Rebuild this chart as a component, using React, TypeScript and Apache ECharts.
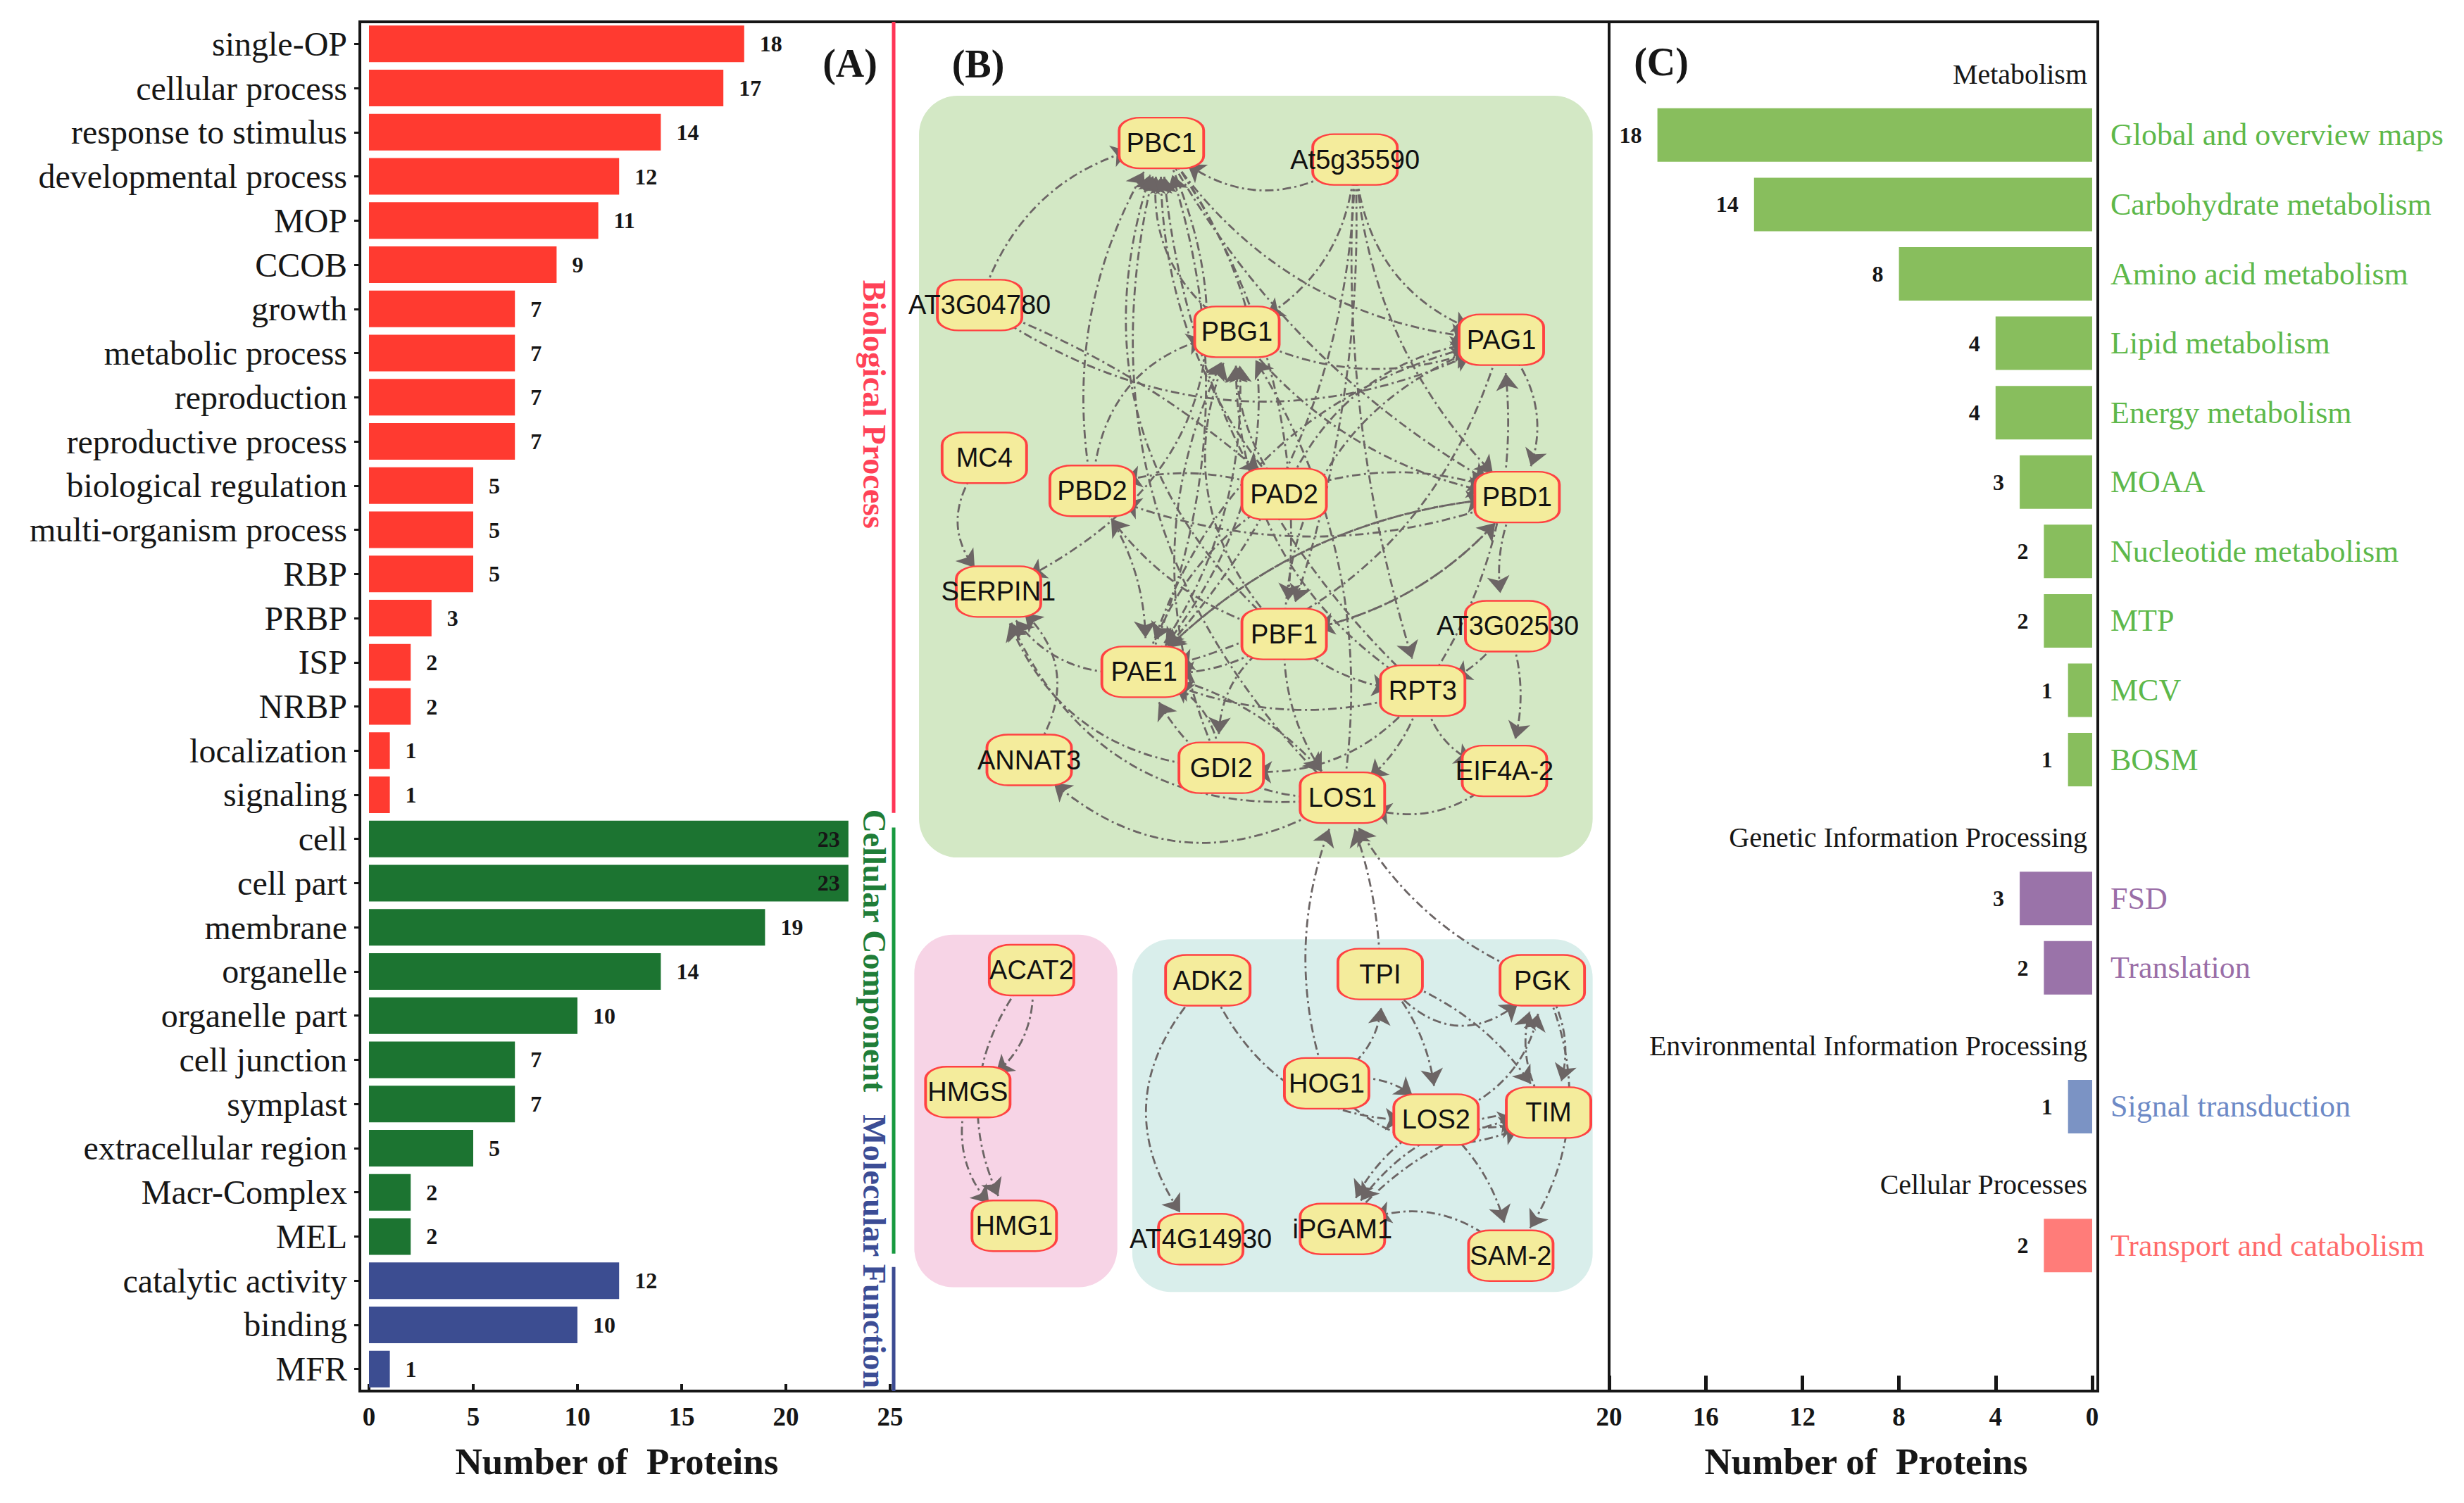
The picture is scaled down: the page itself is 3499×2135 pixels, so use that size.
import React, { useEffect, useRef } from 'react';
import * as echarts from 'echarts';

// ---------- Panel A data ----------
const bpCategories = ['single-OP', 'cellular process', 'response to stimulus', 'developmental process', 'MOP', 'CCOB', 'growth', 'metabolic process', 'reproduction', 'reproductive process', 'biological regulation', 'multi-organism process', 'RBP', 'PRBP', 'ISP', 'NRBP', 'localization', 'signaling'];
const bpValues = [18, 17, 14, 12, 11, 9, 7, 7, 7, 7, 5, 5, 5, 3, 2, 2, 1, 1];
const ccCategories = ['cell', 'cell part', 'membrane', 'organelle', 'organelle part', 'cell junction', 'symplast', 'extracellular region', 'Macr-Complex', 'MEL'];
const ccValues = [23, 23, 19, 14, 10, 7, 7, 5, 2, 2];
const mfCategories = ['catalytic activity', 'binding', 'MFR'];
const mfValues = [12, 10, 1];
const aTicks = [0, 5, 10, 15, 20, 25];

// ---------- Panel C data ----------
const metabolismCategories = ['Global and overview maps', 'Carbohydrate metabolism', 'Amino acid metabolism', 'Lipid metabolism', 'Energy metabolism', 'MOAA', 'Nucleotide metabolism', 'MTP', 'MCV', 'BOSM'];
const metabolismValues = [18, 14, 8, 4, 4, 3, 2, 2, 1, 1];
const geneticCategories = ['FSD', 'Translation'];
const geneticValues = [3, 2];
const environmentalCategories = ['Signal transduction'];
const environmentalValues = [1];
const cellularCategories = ['Transport and catabolism'];
const cellularValues = [2];
const cTicks = [0, 4, 8, 12, 16, 20];

// ---------- Panel B network ----------
const nodeNames = ['PBC1', 'At5g35590', 'AT3G04780', 'PBG1', 'PAG1', 'MC4', 'PBD2', 'PAD2', 'PBD1', 'SERPIN1', 'AT3G02530', 'PBF1', 'PAE1', 'RPT3', 'ANNAT3', 'GDI2', 'EIF4A-2', 'LOS1', 'ACAT2', 'HMGS', 'HMG1', 'ADK2', 'TPI', 'PGK', 'HOG1', 'LOS2', 'TIM', 'AT4G14930', 'iPGAM1', 'SAM-2'];
const links: [string, string][] = [
  ['AT3G04780', 'PBC1'], ['AT3G04780', 'PAG1'], ['AT3G04780', 'PAD2'],
  ['At5g35590', 'PBC1'], ['At5g35590', 'PAG1'], ['At5g35590', 'PBG1'], ['At5g35590', 'PBD1'], ['At5g35590', 'PBF1'], ['At5g35590', 'PAE1'], ['At5g35590', 'RPT3'],
  ['PBG1', 'PBC1'], ['PBC1', 'PAG1'], ['PBC1', 'PBD1'], ['PBC1', 'PAE1'], ['PBC1', 'PBF1'], ['PBC1', 'SERPIN1'],
  ['PBD2', 'PBC1'], ['PAE1', 'PBC1'], ['PBF1', 'PBC1'], ['PAD2', 'PBC1'], ['LOS1', 'PBC1'], ['RPT3', 'PBC1'],
  ['PBG1', 'PAG1'], ['PAD2', 'PBG1'], ['PBF1', 'PBG1'], ['PAE1', 'PBG1'], ['PBD2', 'PBG1'], ['RPT3', 'PBG1'], ['LOS1', 'PBG1'], ['GDI2', 'PBG1'],
  ['PBG1', 'PBD1'], ['PAG1', 'PBD1'], ['PAD2', 'PAG1'], ['PBF1', 'PAG1'], ['PAE1', 'PAG1'], ['RPT3', 'PAG1'],
  ['PAD2', 'PBD1'], ['PBF1', 'PBD1'], ['PAE1', 'PBD1'], ['PBD1', 'PBD2'], ['PAD2', 'PBD2'],
  ['MC4', 'SERPIN1'], ['PAE1', 'SERPIN1'], ['ANNAT3', 'SERPIN1'], ['GDI2', 'SERPIN1'], ['LOS1', 'SERPIN1'],
  ['RPT3', 'PAE1'], ['PBF1', 'PAE1'], ['PAD2', 'PAE1'], ['LOS1', 'PAE1'], ['GDI2', 'PAE1'], ['PBD1', 'PAE1'], ['PAG1', 'PAE1'],
  ['RPT3', 'LOS1'], ['PBF1', 'LOS1'], ['EIF4A-2', 'LOS1'], ['PAE1', 'LOS1'],
  ['PBD1', 'AT3G02530'], ['AT3G02530', 'EIF4A-2'], ['AT3G02530', 'RPT3'], ['RPT3', 'EIF4A-2'],
  ['PBF1', 'GDI2'], ['LOS1', 'ANNAT3'], ['RPT3', 'GDI2'], ['PBF1', 'PBD2'], ['PBD2', 'PAE1'], ['PBF1', 'RPT3'], ['PBD1', 'PBF1'],
  ['HOG1', 'LOS1'], ['TPI', 'LOS1'], ['PGK', 'LOS1'], ['ADK2', 'AT4G14930'],
  ['ADK2', 'LOS2'], ['HOG1', 'TPI'], ['TPI', 'PGK'], ['TPI', 'TIM'], ['LOS2', 'PGK'], ['HOG1', 'LOS2'], ['HOG1', 'TIM'],
  ['PGK', 'TIM'], ['TIM', 'PGK'], ['LOS2', 'iPGAM1'], ['TIM', 'iPGAM1'], ['SAM-2', 'iPGAM1'], ['LOS2', 'SAM-2'], ['PGK', 'SAM-2'],
  ['iPGAM1', 'TIM'], ['LOS2', 'TIM'], ['TPI', 'LOS2'],
  ['ACAT2', 'HMGS'], ['ACAT2', 'HMG1'], ['HMGS', 'HMG1'],
];

// ---------- layout (positions / styles, not data) ----------
const nodeLayout: Record<string, [number, number]> = {
  'PBC1': [738, 91], 'At5g35590': [861, 101.5], 'AT3G04780': [622.5, 194], 'PBG1': [786, 211], 'PAG1': [954, 216],
  'MC4': [625.5, 291], 'PBD2': [694, 312], 'PAD2': [816, 314], 'PBD1': [964, 316], 'SERPIN1': [634.5, 376],
  'AT3G02530': [958, 398], 'PBF1': [816, 403], 'PAE1': [727, 427], 'RPT3': [904, 439], 'ANNAT3': [654, 483],
  'GDI2': [776, 488], 'EIF4A-2': [956, 490], 'LOS1': [853, 507], 'ACAT2': [655.5, 616.5], 'HMGS': [615, 694],
  'HMG1': [644.5, 779], 'ADK2': [767.5, 623], 'TPI': [877, 619], 'PGK': [980, 623], 'HOG1': [843, 688.5],
  'LOS2': [912.5, 711.5], 'TIM': [984, 707], 'AT4G14930': [763, 787.5], 'iPGAM1': [853, 781], 'SAM-2': [960, 798],
};
const linkCurveness = [
  0.3, -0.3, 0.1,
  0.4, -0.35, 0.3, -0.2, 0.1, 0.2, -0.1,
  0.35, -0.25, -0.15, 0.4, 0.2, 0.5,
  0.2, -0.2, 0.35, 0.2, 0.3, 0.2,
  -0.25, 0.2, 0.35, -0.2, 0.4, 0.3, -0.2, 0.25,
  -0.2, 0.35, 0.3, 0.35, 0.3, -0.2,
  0.2, -0.2, 0.2, 0.2, -0.2,
  -0.5, 0.35, -0.5, 0.35, 0.4,
  0.2, 0.2, -0.2, 0.35, -0.35, -0.2, 0.3,
  0.2, -0.2, 0.35, 0.2,
  -0.2, 0.2, 0.2, -0.35,
  -0.35, 0.4, 0.3, 0.2, 0.2, -0.2, 0.2,
  0.2, -0.1, 0.2, -0.45,
  -0.35, -0.35, -0.6, 0.2, -0.35, 0.35, -0.4,
  0.3, 0.3, -0.2, -0.3, -0.35, 0.2, 0.3,
  0.2, -0.2, 0.2,
  0.35, -0.35, -0.35,
];
const clusterBoxes = [
  { x0: 584, y0: 61, x1: 1012, y1: 545, color: '#D3E8C5' },
  { x0: 581, y0: 594, x1: 710, y1: 818, color: '#F7D4E6' },
  { x0: 719.5, y0: 597, x1: 1012, y1: 821, color: '#D9EEEB' },
];

const serif = '"Liberation Serif", "Times New Roman", serif';
const sans = '"Liberation Sans", Arial, sans-serif';
const ink = '#161616';

const aGroups = [
  { name: 'Biological Process', cats: bpCategories, values: bpValues, bar: '#FF3A30', line: '#FF3556', text: '#FF4257' },
  { name: 'Cellular Component', cats: ccCategories, values: ccValues, bar: '#1C7431', line: '#17993F', text: '#1F7D38' },
  { name: 'Molecular Function', cats: mfCategories, values: mfValues, bar: '#3C4D91', line: '#3C4B92', text: '#3C4D95' },
];
// bracket spans / label centres, in row units (row centre = index)
const bracketLayout = [
  { from: -0.5, to: 17.41, labelAt: 8.16 },
  { from: 17.74, to: 27.39, labelAt: 20.53 },
  { from: 27.69, to: 30.5, labelAt: 27.34 },
];
const bracketLineX = 25.17;
const bracketTextX = 24.24;

const cGroups = [
  { header: 'Metabolism', cats: metabolismCategories, values: metabolismValues, bar: '#88BE5D', text: '#5DB84A' },
  { header: 'Genetic Information Processing', cats: geneticCategories, values: geneticValues, bar: '#9A73A9', text: '#9A6EA7' },
  { header: 'Environmental Information Processing', cats: environmentalCategories, values: environmentalValues, bar: '#7B93C4', text: '#6D8AC6' },
  { header: 'Cellular Processes', cats: cellularCategories, values: cellularValues, bar: '#FF7C79', text: '#FF6B6B' },
];

type Row = { key: string; label: string; kind: 'header' | 'bar' | 'blank'; value?: number; gi: number };

function buildOption() {
  const aCategories = aGroups.flatMap((g) => g.cats);
  const aData = aGroups.flatMap((g) =>
    g.values.map((v) => {
      const item: any = { value: v, itemStyle: { color: g.bar } };
      if (v >= 23) item.label = { position: 'insideRight', distance: 12 };
      return item;
    })
  );

  const rows: Row[] = [];
  cGroups.forEach((g, gi) => {
    rows.push({ key: '#' + g.header, label: g.header, kind: 'header', gi });
    g.cats.forEach((c, i) => rows.push({ key: c, label: c, kind: 'bar', value: g.values[i], gi }));
  });
  rows.push({ key: '#blank', label: '', kind: 'blank', gi: -1 });
  const rich: any = {};
  cGroups.forEach((g, gi) => {
    rich['g' + gi] = { color: g.text, fontSize: 44, fontFamily: serif };
  });
  const cData = rows.map((r) => (r.kind === 'bar' ? { value: r.value, itemStyle: { color: cGroups[r.gi].bar } } : '-'));

  const hiddenValue = (gridIndex: number) => ({ type: 'value', gridIndex, show: false, min: 0, max: 1 });

  return {
    animation: false,
    backgroundColor: '#ffffff',
    tooltip: { show: false },
    grid: [
      { left: 511, top: 31, width: 2468, height: 1945, show: true, borderColor: ink, borderWidth: 4, backgroundColor: 'rgba(0,0,0,0)', outerBoundsMode: 'none' },
      { left: 524, top: 31, width: 740, height: 1945, outerBoundsMode: 'none' },
      { left: 1276, top: 31, width: 1008, height: 1945, outerBoundsMode: 'none' },
      { left: 2285, top: 31, width: 686, height: 1945, outerBoundsMode: 'none' },
      { left: 2285, top: 44, width: 686, height: 1873, outerBoundsMode: 'none' },
    ],
    xAxis: [
      hiddenValue(0),
      {
        type: 'value', gridIndex: 1, min: 0, max: 25, interval: 5,
        axisLine: { show: true, onZero: false, lineStyle: { color: ink, width: 4 } },
        axisTick: { show: true, inside: true, length: 10, lineStyle: { color: ink, width: 4 } },
        axisLabel: { margin: 18, color: ink, fontSize: 37, fontWeight: 'bold', fontFamily: serif, customValues: aTicks },
        splitLine: { show: false },
        name: 'Number of  Proteins', nameLocation: 'middle', nameGap: 73,
        nameTextStyle: { color: ink, fontSize: 53, fontWeight: 'bold', fontFamily: serif, padding: [0, 36, 0, 0] },
      },
      { type: 'value', gridIndex: 2, show: false, min: 571, max: 1022 },
      {
        type: 'value', gridIndex: 3, min: 0, max: 20, interval: 4, inverse: true,
        axisLine: { show: true, onZero: false, lineStyle: { color: ink, width: 4 } },
        axisTick: { show: true, inside: true, length: 22, lineStyle: { color: ink, width: 5 } },
        axisLabel: { margin: 18, color: ink, fontSize: 37, fontWeight: 'bold', fontFamily: serif, customValues: cTicks },
        splitLine: { show: false },
        name: 'Number of  Proteins', nameLocation: 'middle', nameGap: 73,
        nameTextStyle: { color: ink, fontSize: 53, fontWeight: 'bold', fontFamily: serif, padding: [0, 0, 0, 44] },
      },
      { type: 'value', gridIndex: 4, show: false, min: 0, max: 20, inverse: true },
    ],
    yAxis: [
      hiddenValue(0),
      {
        type: 'category', gridIndex: 1, data: aCategories, inverse: true, offset: 13,
        axisLine: { show: true, onZero: false, lineStyle: { color: ink, width: 4 } },
        axisTick: { show: true, alignWithLabel: true, length: 8, lineStyle: { color: ink, width: 3 } },
        axisLabel: { interval: 0, margin: 18, color: ink, fontSize: 48, fontFamily: serif },
      },
      { type: 'value', gridIndex: 2, show: false, min: 14, max: 884, inverse: true },
      {
        type: 'value', gridIndex: 3, min: 0, max: 1, position: 'left',
        axisLine: { show: true, onZero: false, lineStyle: { color: ink, width: 4 } },
        axisTick: { show: false }, axisLabel: { show: false }, splitLine: { show: false },
      },
      {
        type: 'category', gridIndex: 4, data: rows.map((r) => r.key), inverse: true, position: 'right', offset: 8,
        axisLine: { show: false }, axisTick: { show: false },
        axisLabel: {
          interval: 0, margin: 18,
          formatter: (_v: string, idx: number) => (rows[idx].kind === 'bar' ? `{g${rows[idx].gi}|${rows[idx].label}}` : ''),
          rich,
        },
      },
      {
        type: 'category', gridIndex: 4, data: rows.map((r) => r.key), inverse: true, position: 'right', offset: 8,
        axisLine: { show: false }, axisTick: { show: false },
        axisLabel: {
          interval: 0, inside: true, margin: 15, color: ink, fontSize: 40, fontFamily: serif,
          verticalAlign: 'top', lineHeight: 24,
          formatter: (_v: string, idx: number) => (rows[idx].kind === 'header' ? rows[idx].label : ''),
        },
      },
    ],
    graphic: [
      { type: 'text', x: 1207, y: 90, style: { text: '(A)', font: `bold 56px ${serif}`, fill: ink, align: 'center', verticalAlign: 'middle', textAlign: 'center', textVerticalAlign: 'middle' } },
      { type: 'text', x: 1389, y: 91, style: { text: '(B)', font: `bold 56px ${serif}`, fill: ink, align: 'center', verticalAlign: 'middle', textAlign: 'center', textVerticalAlign: 'middle' } },
      { type: 'text', x: 2359, y: 88, style: { text: '(C)', font: `bold 56px ${serif}`, fill: ink, align: 'center', verticalAlign: 'middle', textAlign: 'center', textVerticalAlign: 'middle' } },
    ],
    series: [
      {
        type: 'bar', xAxisIndex: 1, yAxisIndex: 1, data: aData, barWidth: 52,
        label: { show: true, position: 'right', distance: 22, color: ink, fontSize: 32, fontWeight: 'bold', fontFamily: serif },
        silent: true,
      },
      {
        type: 'custom', xAxisIndex: 1, yAxisIndex: 1, silent: true, clip: false, z: 5,
        data: aGroups.map((_g, i) => [bracketLineX, i]),
        renderItem: (params: any, api: any) => {
          const g = aGroups[params.dataIndex];
          const b = bracketLayout[params.dataIndex];
          const cs = params.coordSys;
          const band = cs.height / aCategories.length;
          const yAt = (u: number) => cs.y + (u + 0.5) * band;
          const xl = api.coord([bracketLineX, 0])[0];
          const xt = api.coord([bracketTextX, 0])[0];
          return {
            type: 'group',
            children: [
              { type: 'line', shape: { x1: xl, y1: yAt(b.from), x2: xl, y2: yAt(b.to) }, style: { stroke: g.line, lineWidth: 5 } },
              {
                type: 'text', x: xt, y: yAt(b.labelAt), rotation: -Math.PI / 2,
                style: { text: g.name, fill: g.text, font: `bold 46px ${serif}`, align: 'center', verticalAlign: 'middle' },
              },
            ],
          };
        },
      },
      {
        type: 'custom', xAxisIndex: 2, yAxisIndex: 2, silent: true, z: 1,
        data: clusterBoxes.map((b) => [b.x0, b.y0, b.x1, b.y1]),
        encode: { x: [0, 2], y: [1, 3] },
        renderItem: (params: any, api: any) => {
          const p0 = api.coord([api.value(0), api.value(1)]);
          const p1 = api.coord([api.value(2), api.value(3)]);
          return {
            type: 'rect',
            shape: { x: p0[0], y: p0[1], width: p1[0] - p0[0], height: p1[1] - p0[1], r: 55 },
            style: { fill: clusterBoxes[params.dataIndex].color },
          };
        },
      },
      {
        type: 'graph', coordinateSystem: 'cartesian2d', xAxisIndex: 2, yAxisIndex: 2, layout: 'none', z: 3,
        symbol: 'roundRect', symbolSize: [120, 72], silent: true,
        itemStyle: { color: '#F4EC9C', borderColor: '#FF4242', borderWidth: 3 },
        label: { show: true, position: 'inside', color: '#111', fontSize: 38, fontFamily: sans },
        edgeSymbol: ['none', 'arrow'], edgeSymbolSize: 24,
        lineStyle: { color: '#6C6565', width: 2.8, type: [12, 5, 3, 5], opacity: 1, curveness: 0.15 },
        emphasis: { disabled: true },
        data: nodeNames.map((n) => ({ name: n, value: nodeLayout[n] })),
        links: links.map(([s, t], i) => ({ source: s, target: t, lineStyle: { curveness: linkCurveness[i] ?? 0.1 } })),
      },
      {
        type: 'bar', xAxisIndex: 4, yAxisIndex: 4, data: cData, barWidth: 76, silent: true,
        label: { show: true, position: 'left', distance: 22, color: ink, fontSize: 32, fontWeight: 'bold', fontFamily: serif },
      },
    ],
  };
}

export default function App() {
  const ref = useRef<HTMLDivElement>(null);
  useEffect(() => {
    document.body.style.margin = '0';
    document.body.style.overflow = 'hidden';
    const chart = echarts.init(ref.current as HTMLDivElement, null, { renderer: 'svg' });
    chart.setOption(buildOption() as any);
    return () => chart.dispose();
  }, []);
  return <div ref={ref} style={{ width: 3499, height: 2135, background: '#fff' }} />;
}
